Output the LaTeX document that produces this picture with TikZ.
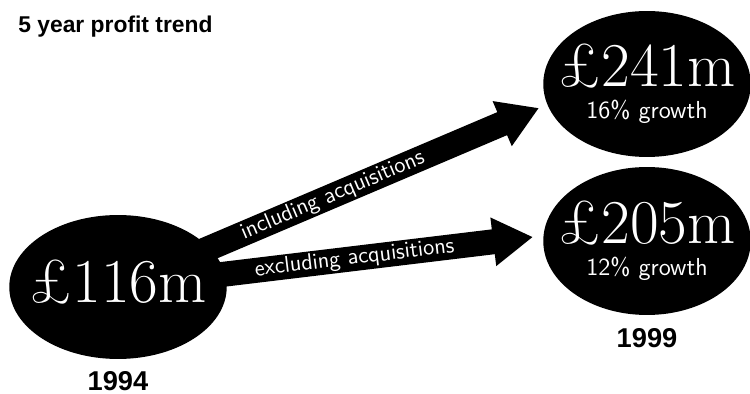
\documentclass[tikz,border=0pt]{standalone}
\usepackage{fontspec}
\usepackage{tikz}
\usetikzlibrary{shapes.geometric,arrows.meta,positioning,backgrounds}
\newfontfamily\headfont{Liberation Sans}
\newcommand{\growthfont}{\sffamily\fontsize{14}{18}\selectfont}

\begin{document}
\begin{tikzpicture}[x=0.02cm,y=-0.02cm,
    bubble/.style={ellipse,fill=black,minimum width=4.15cm,minimum height=2.92cm,inner sep=0pt},
    value/.style={text=white,inner sep=0pt,align=center,font=\fontsize{35.5}{18}\selectfont},
    bigarrow/.style={line width=0.5cm,-{Triangle[length=0.8cm,width=0.92cm]}},
    arrowtext/.style={text=white,sloped,inner sep=0pt,font=\sffamily\fontsize{13}{15}\selectfont},
    year/.style={inner sep=0pt,font=\headfont\bfseries\fontsize{15.5}{18}\selectfont}]
    \useasboundingbox (0,0) rectangle (750,394);
    \node[anchor=base west,inner sep=0pt,font=\headfont\bfseries\fontsize{13}{16}\selectfont] (title) at (18,33) {5 year profit trend};

    \node[bubble,minimum width=4.35cm,minimum height=2.88cm] (p116) at (118,287) {};
    \node[bubble] (p241) at (647,84) {};
    \node[bubble,minimum height=2.96cm] (p205) at (647,241) {};

    \node[value,yshift=0.1cm] (v116) at (p116) {£116m};
    \node[value] (v241) at (p241) {£241m\\{\growthfont 16\% growth}};
    \node[value] (v205) at (p205) {£205m\\{\growthfont 12\% growth}};

    \node[year] (y1994) [below=0.24cm of p116] {1994};
    \node[year] (y1999) [below=0.26cm of p205] {1999};

    \coordinate (tipA) at (539,108);
    \coordinate (tipB) at (533,237);

    \begin{scope}[on background layer]
    \path[bigarrow]
    (p116.center) edge node[arrowtext,pos=0.51] {including acquisitions} (tipA)
    (p116.center) edge node[arrowtext,pos=0.57] {excluding acquisitions} (tipB);
    \end{scope}
  \end{tikzpicture}
\end{document}
